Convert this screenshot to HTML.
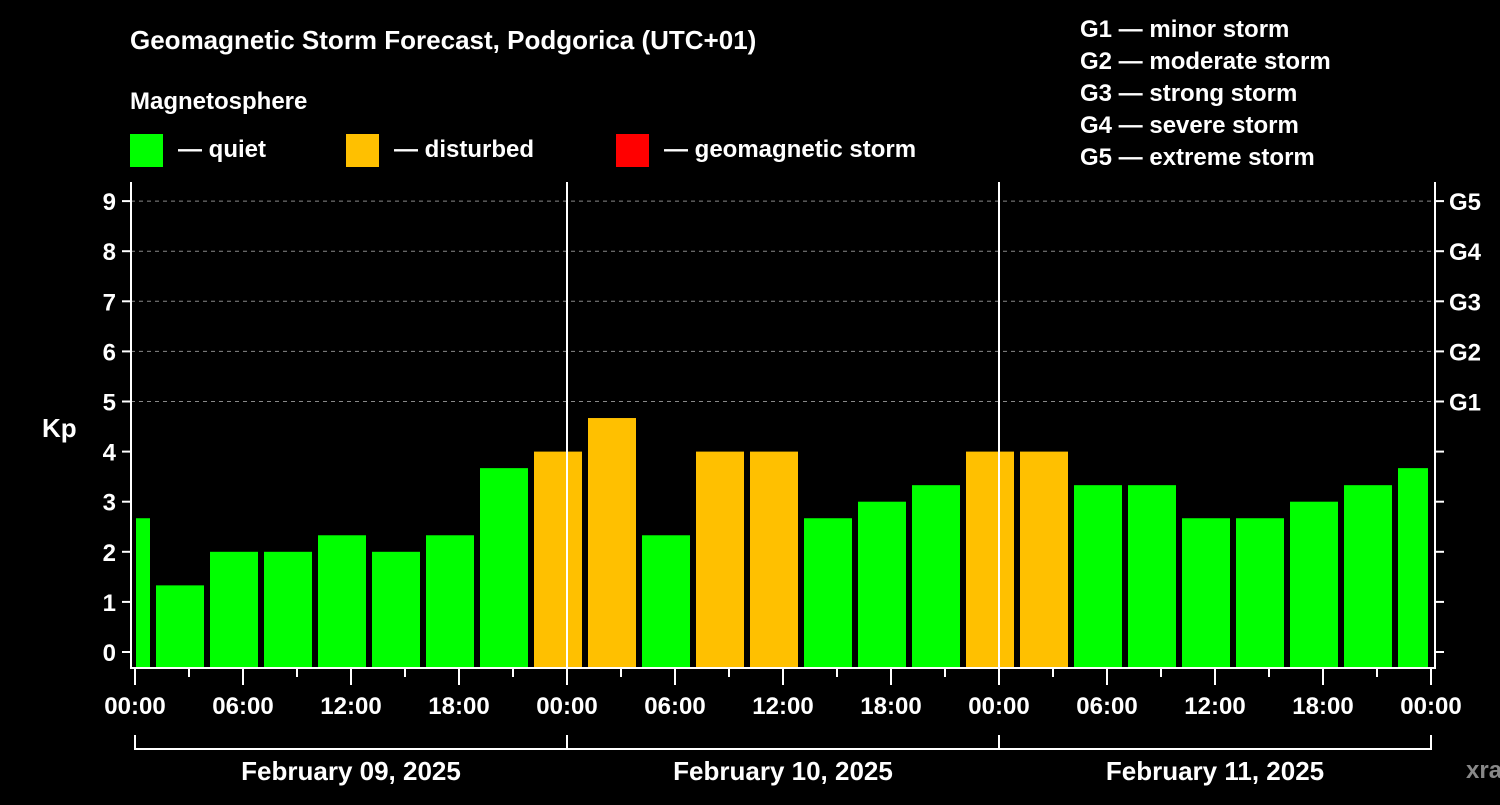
<!DOCTYPE html>
<html><head><meta charset="utf-8"><style>
html,body{margin:0;padding:0;background:#000;}
svg text{font-family:"Liberation Sans",Arial,sans-serif;font-weight:bold;fill:#fff;}
</style></head><body>
<svg width="1500" height="800" viewBox="0 0 1500 800" xmlns="http://www.w3.org/2000/svg">
<g id="static">
<text x="130" y="49" font-size="26">Geomagnetic Storm Forecast, Podgorica (UTC+01)</text>
<text x="130" y="109" font-size="24">Magnetosphere</text>
<rect x="130" y="134" width="33" height="33" fill="#00ff00"/>
<text x="178" y="157" font-size="24">— quiet</text>
<rect x="346" y="134" width="33" height="33" fill="#ffc000"/>
<text x="394" y="157" font-size="24">— disturbed</text>
<rect x="616" y="134" width="33" height="33" fill="#ff0000"/>
<text x="664" y="157" font-size="24">— geomagnetic storm</text>
<g font-size="24">
<text x="1080" y="37">G1 — minor storm</text>
<text x="1080" y="69">G2 — moderate storm</text>
<text x="1080" y="101">G3 — strong storm</text>
<text x="1080" y="133">G4 — severe storm</text>
<text x="1080" y="165">G5 — extreme storm</text>
</g>
<text x="42" y="437" font-size="26">Kp</text>
<text x="1466" y="778" font-size="24" fill="#888" style="fill:#888">xras.ru</text>
</g>
<g id="grid"></g>
<g id="bars"></g>
<g id="axes"></g>
</svg>
<script>
const values = [2.67,1.33,2,2,2.33,2,2.33,3.67,4,4.67,2.33,4,4,2.67,3,3.33,4,4,3.33,3.33,2.67,2.67,3,3.33,3.67];
const dayLabels = ["February 09, 2025","February 10, 2025","February 11, 2025"];
const hourLabels = ["00:00","06:00","12:00","18:00"];
const gLabels = ["G1","G2","G3","G4","G5"];
const kpTicks = [0,1,2,3,4,5,6,7,8,9];

const NS="http://www.w3.org/2000/svg";
const x0=135, pxH=18, yZero=652, pxK=50.1, plotTop=182, plotBot=668, plotL=131, plotR=1435, clipR=1428;
const xs=h=>x0+h*pxH, ys=k=>yZero-k*pxK;
function mk(tag,attrs,parent){const e=document.createElementNS(NS,tag);for(const k in attrs)e.setAttribute(k,attrs[k]);parent.appendChild(e);return e;}
const grid=document.getElementById('grid'),bars=document.getElementById('bars'),axes=document.getElementById('axes');
kpTicks.forEach(k=>{ if(k>=5){const l=mk('line',{x1:plotL,x2:plotR,y1:ys(k),y2:ys(k),stroke:'#888','stroke-dasharray':'4,4','stroke-width':1},grid);

}});
values.forEach((v,i)=>{
  let a=xs(-2+3*i)+3, b=xs(1+3*i)-3;
  a=Math.max(a,x0+1); b=Math.min(b,clipR);
  const col=v>=5?'#ff0000':(v>=4?'#ffc000':'#00ff00');
  const r=mk('rect',{x:a,y:ys(v),width:b-a,height:plotBot-1-ys(v),fill:col},bars);
  
  
});
// day separators
for(let d=1;d<3;d++){const l=mk('line',{x1:xs(24*d),x2:xs(24*d),y1:plotTop,y2:plotBot,stroke:'#fff','stroke-width':2},axes);

}
const frame=mk('path',{d:`M${plotL} ${plotTop}V${plotBot}H${plotR}V${plotTop}`,fill:'none',stroke:'#fff','stroke-width':2},axes);


kpTicks.forEach(k=>{
  mk('line',{x1:plotL-9,x2:plotL,y1:ys(k),y2:ys(k),stroke:'#fff','stroke-width':2},axes);
  mk('line',{x1:plotR,x2:plotR+9,y1:ys(k),y2:ys(k),stroke:'#fff','stroke-width':2},axes);
  const t=mk('text',{x:116,y:ys(k)+9,'font-size':24,'text-anchor':'end'},axes);t.textContent=k;
  
  
});
gLabels.forEach((g,i)=>{const t=mk('text',{x:1449,y:ys(5+i)+9,'font-size':24},axes);t.textContent=g;

});
for(let h=0;h<=72;h+=3){
  const major=h%6===0;
  mk('line',{x1:xs(h),x2:xs(h),y1:plotBot,y2:plotBot+(major?17:9),stroke:'#fff','stroke-width':2},axes);
  if(h%6===0){const t=mk('text',{x:xs(h),y:714,'font-size':24,'text-anchor':'middle'},axes);t.textContent=hourLabels[(h%24)/6];
  
  }
}
mk('path',{d:`M${xs(0)} 735V749H${xs(72)}V735M${xs(24)} 735V749M${xs(48)} 735V749`,fill:'none',stroke:'#fff','stroke-width':2},axes);
dayLabels.forEach((d,i)=>{const t=mk('text',{x:xs(24*i+12),y:780,'font-size':26,'text-anchor':'middle'},axes);t.textContent=d;

});
</script>
</body></html>
